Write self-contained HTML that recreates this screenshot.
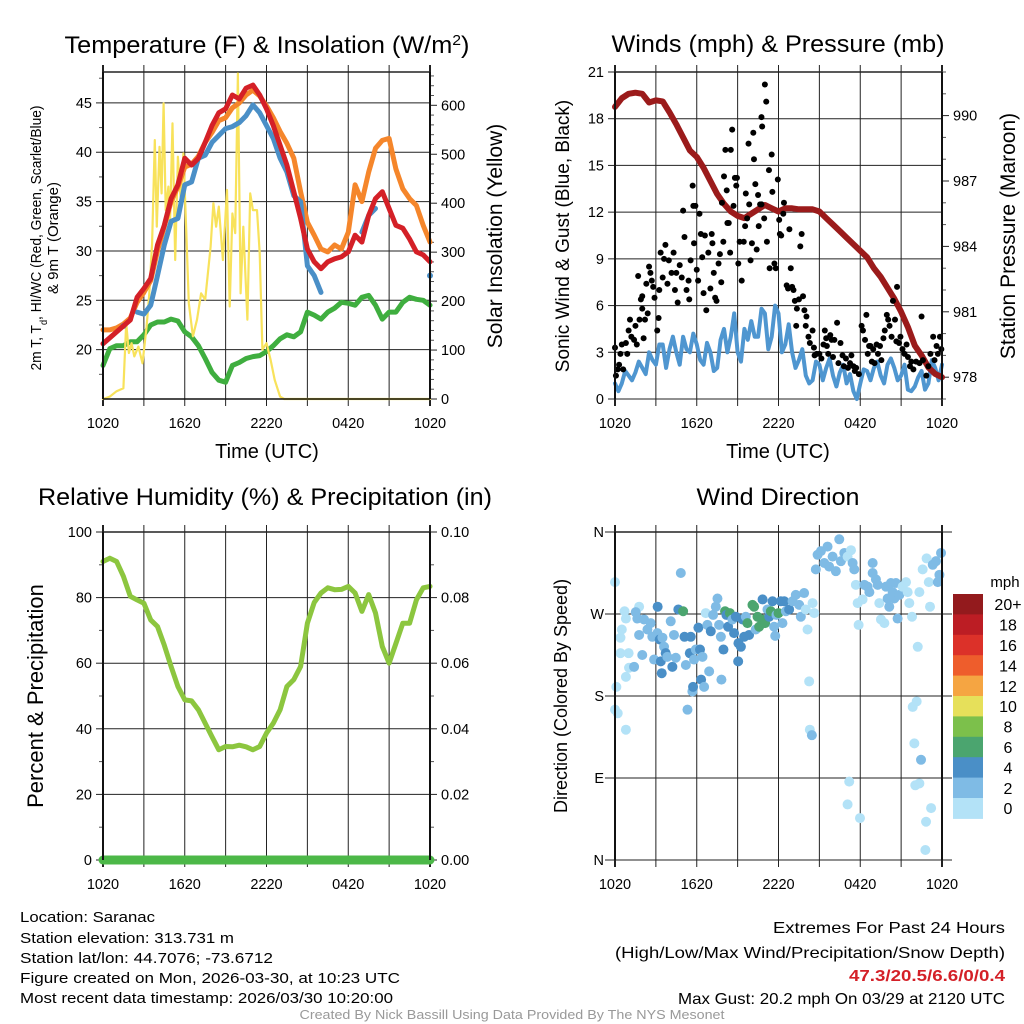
<!DOCTYPE html>
<html><head><meta charset="utf-8"><style>
html,body{margin:0;padding:0;background:#fff;}
svg{display:block;font-family:"Liberation Sans",Arial,sans-serif;}
</style></head><body>
<svg id="fig" width="1024" height="1024" viewBox="0 0 1024 1024" xmlns="http://www.w3.org/2000/svg">
<rect x="0" y="0" width="1024" height="1024" fill="#fff"/>
<g id="layer"></g>
<!-- titles -->
<text x="267" y="53" font-size="24" text-anchor="middle" textLength="405" lengthAdjust="spacingAndGlyphs">Temperature (F) &amp; Insolation (W/m<tspan baseline-shift="super" font-size="15">2</tspan>)</text>
<text x="778" y="52" font-size="24" text-anchor="middle" textLength="333" lengthAdjust="spacingAndGlyphs">Winds (mph) &amp; Pressure (mb)</text>
<text x="265" y="505" font-size="24" text-anchor="middle" textLength="454" lengthAdjust="spacingAndGlyphs">Relative Humidity (%) &amp; Precipitation (in)</text>
<text x="778" y="505" font-size="24" text-anchor="middle" textLength="163" lengthAdjust="spacingAndGlyphs">Wind Direction</text>
<!-- axis titles -->
<text x="267" y="458" font-size="20" text-anchor="middle">Time (UTC)</text>
<text x="778" y="458" font-size="20" text-anchor="middle">Time (UTC)</text>
<g transform="translate(41,238) rotate(-90)">
<text x="0" y="0" font-size="15" text-anchor="middle" textLength="265" lengthAdjust="spacingAndGlyphs">2m T, T<tspan baseline-shift="sub" font-size="10">d</tspan>, HI/WC (Red, Green, Scarlet/Blue)</text>
<text x="0" y="17" font-size="15" text-anchor="middle">&amp; 9m T (Orange)</text>
</g>
<text transform="translate(502,236) rotate(-90)" font-size="21" text-anchor="middle">Solar Insolation (Yellow)</text>
<text transform="translate(569,236) rotate(-90)" font-size="19" text-anchor="middle">Sonic Wind &amp; Gust (Blue, Black)</text>
<text transform="translate(1015,236) rotate(-90)" font-size="21" text-anchor="middle">Station Pressure (Maroon)</text>
<text transform="translate(43,696) rotate(-90)" font-size="22" text-anchor="middle">Percent &amp; Precipitation</text>
<text transform="translate(567,696) rotate(-90)" font-size="18" text-anchor="middle">Direction (Colored By Speed)</text>
<!-- footer -->
<g font-size="15">
<text x="20" y="922" textLength="135" lengthAdjust="spacingAndGlyphs">Location: Saranac</text>
<text x="20" y="943" textLength="214" lengthAdjust="spacingAndGlyphs">Station elevation: 313.731 m</text>
<text x="20" y="963" textLength="253" lengthAdjust="spacingAndGlyphs">Station lat/lon: 44.7076; -73.6712</text>
<text x="20" y="983" textLength="380" lengthAdjust="spacingAndGlyphs">Figure created on Mon, 2026-03-30, at 10:23 UTC</text>
<text x="20" y="1003" textLength="373" lengthAdjust="spacingAndGlyphs">Most recent data timestamp: 2026/03/30 10:20:00</text>
</g>
<g font-size="16" text-anchor="end">
<text x="1005" y="933" textLength="232" lengthAdjust="spacingAndGlyphs">Extremes For Past 24 Hours</text>
<text x="1005" y="958" textLength="390" lengthAdjust="spacingAndGlyphs">(High/Low/Max Wind/Precipitation/Snow Depth)</text>
<text x="1005" y="981" fill="#d42027" font-weight="bold" textLength="156" lengthAdjust="spacingAndGlyphs">47.3/20.5/6.6/0/0.4</text>
<text x="1005" y="1004" textLength="327" lengthAdjust="spacingAndGlyphs">Max Gust: 20.2 mph On 03/29 at 2120 UTC</text>
</g>
<text x="512" y="1019" font-size="12.5" fill="#999" text-anchor="middle" textLength="425" lengthAdjust="spacingAndGlyphs">Created By Nick Bassill Using Data Provided By The NYS Mesonet</text>
</svg>
<script>
// ---------- data ----------
const xTickLabels = ['1020','1620','2220','0420','1020'];
const tempRed = [20.6,21.2,21.8,22.4,23,25.3,26.2,27.2,30.6,32.6,35.3,36.7,39.4,38.7,39.4,41,42.7,44,44.4,45.8,45.4,46.5,46.8,45.8,44.4,42.7,40.7,38.7,36,33.3,30.2,28.9,28.2,28.9,29.2,29.4,29.9,31.6,30.9,33.6,35.3,36,34.3,32.6,32.3,31.2,29.9,29.6,28.9];
const temp9m = [22,22,22.2,22.6,23.2,24.8,25.8,27,30,32.5,35,36.5,38.5,38.8,39.6,41,42,43.2,43.5,44.5,45,45.8,46.3,45.7,44.7,43.5,42.1,40.9,39.4,36,32.9,31.6,30.2,29.9,30.6,30.2,31.9,36.7,35,38,40.4,41.2,41.4,38.3,36.3,35.3,34.6,32.6,30.9];
const tempHIWC = [null,null,null,22.4,null,23.8,23.6,24.5,27.5,30.6,33,33.3,36.7,37,39.4,39.7,41,41.7,42.4,42.6,43,43.7,44.8,44,42.7,41.4,39.4,38,35.6,35,28.5,27.5,25.8,null,null,null,null,null,31.9,33.6,34.3,null,null,null,null,null,null,null,27.5];
const dewPoint = [18.4,20.1,20.4,20.4,20.8,20.8,21.5,22.5,22.8,22.8,23.1,22.9,21.8,21.3,20.4,19.1,17.7,16.9,16.7,18.4,18.7,19.1,19.3,19.4,19.8,20.4,21.1,21.5,21.3,21.8,23.8,23.5,23.1,23.8,24.2,24.8,24.7,24.5,25.3,25.5,24.5,23.1,23.8,23.8,24.8,25.3,25.1,25,24.5];
const solarHours = [0,0.5,1,1.5,1.7,1.9,2.1,2.3,2.6,2.9,3.2,3.4,3.6,3.8,3.95,4.15,4.3,4.45,4.6,4.8,4.9,5.1,5.3,5.5,5.7,5.9,6.1,6.3,6.6,6.9,7.2,7.5,7.9,8.1,8.3,8.5,8.8,9.1,9.3,9.5,9.7,9.9,10.1,10.3,10.6,10.8,11.0,11.3,11.5,11.7,12.0,12.3,12.6,13,13.3,24];
const solarWatts = [0,5,16,22,155,94,114,87,107,73,148,216,318,529,352,515,420,604,386,434,345,563,284,495,407,502,352,196,128,162,216,203,311,400,352,393,284,427,189,379,339,665,216,352,162,420,386,386,298,101,114,80,39,5,0,0];
const windSpeed = [1.0,1.0,1.5,1.7,2.0,3.0,2.2,3.5,3.2,3.0,4.0,3.0,3.5,2.2,3.0,2.0,4.5,4.0,3.0,4.5,5.0,4.0,5.5,4.0,5.5,3.5,3.0,2.5,1.5,1.2,2.2,2.0,1.5,1.7,1.0,0.5,1.0,1.8,2.0,1.5,2.2,2.0,1.5,0.6,0.8,1.8,1.0,2.0,2.2];
const windSpeedMid = [0.5,1.8,1.2,2.4,1.6,2.5,3.5,2.0,4.0,2.2,3.2,4.2,2.5,3.6,1.8,3.8,3.0,5.5,2.4,3.8,4.0,5.8,3.2,6.0,3.0,4.8,2.0,3.2,1.0,2.4,1.2,2.6,0.8,2.2,1.6,0.0,1.9,1.2,2.4,1.0,2.6,1.2,2.2,0.5,1.4,0.6,2.5,1.2];
const pressure = [990.4,990.8,991,991.05,991,990.6,990.7,990.65,990.15,989.6,989,988.4,988.1,987.6,987,986.4,985.95,985.6,985.4,985.3,985.5,985.7,985.9,985.75,985.6,985.75,985.75,985.7,985.7,985.7,985.6,985.3,985,984.7,984.4,984.1,983.8,983.5,983,982.6,982.1,981.6,981,980.3,979.45,979,978.45,978.15,978];
const gustHours = [0,0.07,0.2,0.3,0.4,0.5,0.6,0.8,0.9,1.0,1.1,1.2,1.4,1.5,1.6,1.7,1.8,1.9,2.0,2.0,2.1,2.2,2.3,2.4,2.5,2.6,2.7,2.8,2.9,3.1,3.2,3.25,3.35,3.5,3.6,3.7,3.85,3.95,4.15,4.3,4.4,4.5,4.6,4.75,4.9,5.0,5.1,5.25,5.4,5.45,5.55,5.7,5.75,5.8,5.9,6.0,6.1,6.2,6.3,6.4,6.5,6.6,6.7,6.85,7.0,7.1,7.15,7.25,7.35,7.45,7.6,7.7,7.8,7.85,7.95,8.0,8.1,8.2,8.25,8.35,8.45,8.5,8.6,8.7,8.8,8.9,8.95,9.05,9.15,9.3,9.45,9.55,9.6,9.7,9.8,9.85,9.95,10.05,10.15,10.2,10.3,10.4,10.5,10.55,10.65,10.75,10.75,10.8,10.95,11.0,11.1,11.15,11.3,11.35,11.5,11.55,11.7,11.8,11.95,12.05,12.1,12.2,12.35,12.4,12.8,12.9,12.6,12.7,13.0,13.1,13.2,13.35,13.5,13.6,13.7,13.8,13.3,13.9,14.05,14.0,14.2,14.3,14.5,14.6,14.65,14.8,15.0,15.15,15.3,15.4,15.5,15.55,15.65,15.8,15.9,16.0,16.1,16.3,16.4,16.55,16.7,16.8,16.95,17.1,17.25,17.35,17.5,17.6,17.7,17.9,18.1,18.2,18.35,18.45,18.55,18.65,18.75,18.85,18.95,19.05,19.2,19.3,19.45,19.55,19.7,19.8,19.95,20.05,20.15,20.3,20.4,20.55,20.65,20.7,20.85,20.95,21.1,21.25,21.4,21.5,21.65,21.75,21.9,22.1,22.35,22.5,22.6,22.85,23.0,23.15,23.35,23.45,23.6,23.7,23.85,23.95];
const gustSpeed = [3.3,1.5,1.9,2.2,2.9,3.5,1.9,3.6,2.9,4.4,5.1,4.0,3.8,4.7,3.5,7.9,5.1,6.4,5.8,6.6,3.9,5.1,7.4,5.5,8.5,8.1,7.6,7.2,6.5,4.4,5.2,7.0,9.4,7.8,9.0,9.9,7.4,8.9,8.1,9.4,7.0,8.1,6.2,8.6,7.8,12.1,10.4,7.0,7.6,6.4,8.9,13.7,12.4,10.0,12.4,8.3,7.6,11.9,10.6,9.1,6.8,10.5,5.7,9.4,7.1,10.6,10.0,8.1,6.5,6.3,8.7,9.3,7.5,12.6,10.1,14.3,16.0,13.4,11.3,11.3,9.4,16.0,17.3,12.4,14.2,13.7,14.2,8.7,10.1,7.6,10.1,11.1,13.2,11.6,16.4,12.5,8.9,10.0,17.1,15.4,13.8,9.6,13.1,11.1,12.5,12.5,18.1,17.5,11.6,20.2,19.1,10.1,14.7,8.4,15.7,13.3,8.7,8.4,14.1,11.5,10.6,10.5,11.9,12.6,10.9,8.4,7.3,7.1,7.2,7.0,6.3,5.8,6.4,9.8,10.6,6.6,4.7,5.7,5.3,4.7,4.0,3.6,4.4,3.3,2.8,2.9,2.9,2.6,3.5,4.4,3.9,3.4,2.9,4.1,3.8,2.7,3.8,4.9,2.3,3.6,2.8,2.1,2.6,2.0,2.3,2.8,2.1,1.8,2.0,1.6,4.7,4.4,3.8,5.4,2.9,3.4,3.4,2.4,3.2,2.3,3.5,2.9,3.4,2.5,3.9,4.4,5.4,5.1,4.7,4.0,6.3,5.1,3.7,7.2,3.6,4.0,3.2,2.9,3.5,2.7,2.1,2.4,1.9,2.4,2.3,5.3,2.5,1.5,2.1,2.9,4.0,2.5,3.4,2.9,4.0,3.2];
const humidity = [91,92,91,86.5,80.4,79.3,78.3,73.2,71.2,65.5,59,52.9,48.8,48.5,45.8,41.7,37.6,33.6,34.6,34.5,35,34.5,33.6,34.6,38.7,41.7,45.8,52.9,55,59,72.2,78.5,81.4,83,82.4,82.5,83.4,81.4,75.8,80.9,75.3,65.1,60,66,72.2,72.2,79.3,83,83.4];
const precipitation = [0,0,0,0,0,0,0,0,0,0,0,0,0,0,0,0,0,0,0,0,0,0,0,0,0,0,0,0,0,0,0,0,0,0,0,0,0,0,0,0,0,0,0,0,0,0,0,0,0];
const dirHours = [0,0,0.2,0.1,0.8,0.4,0.8,0.7,0.5,0.4,1.0,1.03,0.8,1.4,1.77,1.52,1.64,1.77,2.0,2.13,2.38,2.62,2.74,2.87,3.13,3.11,3.28,3.48,3.6,3.72,3.36,3.43,3.84,4.09,4.21,4.33,4.46,4.65,4.83,5.0,5.1,5.2,5.32,5.49,5.56,5.68,5.73,5.8,5.93,6.12,6.24,6.32,6.42,6.54,6.66,6.78,6.91,7.03,7.2,7.4,7.52,7.64,7.77,7.81,7.96,8.08,8.18,8.3,8.43,8.62,8.74,8.87,9.04,9.06,9.24,9.36,9.48,9.6,9.72,9.84,10.09,10.21,10.33,10.46,10.58,10.78,10.83,11.02,11.19,11.32,11.44,11.56,11.68,11.76,11.85,12.0,12.17,12.29,12.42,12.54,12.78,13.03,13.27,13.52,13.64,13.88,14.0,14.13,14.25,14.3,14.45,14.5,14.62,14.74,14.87,15.11,15.36,15.6,15.72,15.97,16.21,16.46,16.58,16.83,17.07,17.32,17.44,17.56,17.19,17.07,17.68,17.81,17.88,17.98,18.17,18.3,18.54,18.67,18.91,18.91,19.15,19.28,19.4,19.52,19.77,19.89,20.01,20.13,20.25,20.38,20.5,20.62,20.74,20.87,21.11,21.36,21.48,21.6,21.8,21.85,21.97,22.04,22.14,22.22,22.34,22.46,22.34,22.58,22.83,22.78,22.87,23.03,23.12,23.2,23.32,23.56,23.81,23.93,23.69];
const dirDegrees = [305,165,161,190,143,244,265,273,253,227,227,211,201,212,278,272,265,247,225,264,253,260,245,220,278,249,242,244,234,227,218,205,223,262,212,247,222,275,315,273,245,214,165,227,245,185,190,220,231,255,231,198,223,190,271,258,207,251,269,278,287,258,245,198,231,273,269,256,271,264,249,267,218,238,234,264,245,267,260,247,280,278,253,267,256,264,286,260,275,267,273,284,256,246,269,271,284,260,284,273,275,284,291,280,267,293,275,253,196,143,137,282,271,319,335,339,326,344,322,333,317,352,328,337,333,340,326,319,86,61,302,282,258,46,286,302,300,294,326,315,308,302,282,264,260,300,287,278,304,294,287,304,265,291,300,305,294,282,267,168,128,82,174,234,84,110,294,319,42,11,331,305,278,57,324,328,313,337,305];
const dirSpeed = [1,1,1,1,1,1,1,1,1,1,1,1,1,3,1,3,3,3,3,3,3,3,3,3,5,3,5,3,3,5,5,5,3,3,5,3,3,5,3,7,5,3,3,5,5,3,5,3,3,5,5,5,3,3,1,3,3,5,3,3,3,3,3,3,5,7,5,5,7,3,5,5,5,5,5,5,5,3,7,5,7,7,3,7,7,7,5,7,3,5,7,5,3,3,3,7,5,3,5,3,5,3,3,3,3,3,1,1,1,1,3,1,1,3,3,3,3,3,3,3,3,3,3,3,1,1,3,3,1,1,1,1,1,1,1,3,3,3,3,3,3,3,1,1,1,3,3,3,3,3,3,3,3,3,1,1,1,1,1,1,1,1,1,1,1,3,1,1,1,1,1,1,1,1,3,3,3,3,3];
const speedBins = ['0','2','4','6','8','10','12','14','16','18','20+'];
const speedColors = ['#b3e2f7','#7fbbe5','#4a8fc7','#4ba56f','#7cc04b','#e6e05a','#f5a542','#ee5d2c','#dc3129','#bc1d24','#931a1d'];

// ---------- helpers ----------
const NS='http://www.w3.org/2000/svg';
const layer=document.getElementById('layer');
function mk(tag,attrs,parent){const e=document.createElementNS(NS,tag);for(const k in attrs)e.setAttribute(k,attrs[k]);(parent||layer).appendChild(e);return e;}
function halfHours(n){const a=[];for(let i=0;i<n;i++)a.push(i*0.5);return a;}
const HH = halfHours(49);

const L0=103,L1=430,R0=615,R1=942,T0=72,T1=399,B0=532,B1=860;
function xs(x0,x1){return h=>x0+h*(x1-x0)/24;}
function lin(d0,d1,p0,p1){return v=>p0+(v-d0)*(p1-p0)/(d1-d0);}

function frame(key,x0,x1,y0,y1){
  const g=mk('g',{});
  
  
  const X=xs(x0,x1);
  for(let i=0;i<=8;i++){
    const x=X(i*3);
    const v=mk('line',{x1:x,x2:x,y1:y0-7,y2:y1+7,stroke:'#222','stroke-width':(i==0||i==8)?2:1},g);
    
    
  }
  xTickLabels.forEach((lab,i)=>{
    const t=mk('text',{x:X(i*6),y:y1+29,'font-size':14.5,'text-anchor':'middle'},g);
    t.textContent=lab;
    
    
  });
  const top=mk('line',{x1:x0,x2:x1,y1:y0,y2:y0,stroke:'#222','stroke-width':1.5},g);
  
  
  return g;
}
function yAxis(g,key,side,x,y,vals,labels,minor,gridTo){
  vals.forEach((v,i)=>{
    const yy=y(v);
    if(gridTo){
      const gl=mk('line',{x1:gridTo[0],x2:gridTo[1],y1:yy,y2:yy,stroke:'#222','stroke-width':1},g);
      
      
    }
    const tk=mk('line',{x1:x,x2:x+(side=='left'?-7:7),y1:yy,y2:yy,stroke:'#222','stroke-width':1},g);
    
    
    if(labels[i]!==null){
      const t=mk('text',{x:side=='left'?x-11:x+11,y:yy+5,'font-size':14.5,'text-anchor':side=='left'?'end':'start'},g);
      t.textContent=labels[i];
      
      
    }
  });
  (minor||[]).forEach(v=>{
    const yy=y(v);
    const tk=mk('line',{x1:x,x2:x+(side=='left'?-4:4),y1:yy,y2:yy,stroke:'#555','stroke-width':1},g);
    
    
  });
}
function pathFrom(xsArr,ysArr,X,Y){
  let d='',pen=false;const iso=[];
  for(let i=0;i<ysArr.length;i++){
    if(ysArr[i]===null||ysArr[i]===undefined){pen=false;continue;}
    const px=X(xsArr[i]).toFixed(1),py=Y(ysArr[i]).toFixed(1);
    const prevNull=(i==0||ysArr[i-1]===null), nextNull=(i==ysArr.length-1||ysArr[i+1]===null);
    if(prevNull&&nextNull)iso.push([px,py]);
    d+=(pen?'L':'M')+px+' '+py;pen=true;
  }
  return {d,iso};
}
function series(g,name,xsArr,ysArr,X,Y,color,w){
  const r=pathFrom(xsArr,ysArr,X,Y);
  const p=mk('path',{d:r.d,fill:'none',stroke:color,'stroke-width':w,'stroke-linejoin':'round','stroke-linecap':'round'},g);
  
  
  r.iso.forEach(q=>{
    const c=mk('circle',{cx:q[0],cy:q[1],r:w/2+0.5,fill:color},g);
    
    
  });
}
function range(a,b,s){const r=[];for(let v=a;v<=b+1e-9;v+=s)r.push(+v.toFixed(4));return r;}

// ---------- Panel 1: temperature ----------
(function(){
  const X=xs(L0,L1), Y=lin(15,48.13,T1,T0), S=lin(0,600,T1,105.3);
  const g=frame('temperature',L0,L1,T0,T1);
  const tv=[20,25,30,35,40,45];
  yAxis(g,'temperature','left',L0,Y,tv,tv.map(String),[17.5,22.5,27.5,32.5,37.5,42.5,47.5],[L0,L1]);
  const sv=[0,100,200,300,400,500,600];
  const sm=range(20,660,20).filter(v=>v%100!==0);
  yAxis(g,'solar','right',L1,S,sv,sv.map(String),sm,null);
  const cg=mk('g',{});
  
  
  series(cg,'dewpoint-line',HH,dewPoint,X,Y,'#3fae3f',5);
  series(cg,'solar-insolation-line',solarHours,solarWatts,X,S,'#f8e25b',2.2);
  series(cg,'temperature-9m-line',HH,temp9m,X,Y,'#f5862b',5);
  series(cg,'heat-index-windchill-line',HH,tempHIWC,X,Y,'#4a8fc7',5);
  series(cg,'temperature-2m-line',HH,tempRed,X,Y,'#d42027',5);
  const f1=mk('line',{x1:L0,x2:L0,y1:T0,y2:T1,stroke:'#111','stroke-width':2});
  
  
  const f2=mk('line',{x1:L1,x2:L1,y1:T0,y2:T1,stroke:'#111','stroke-width':2});
  
  
  const f3=mk('line',{x1:L0,x2:L1,y1:T1,y2:T1,stroke:'#111','stroke-width':1.5});
  
  
})();

// ---------- Panel 2: winds ----------
(function(){
  const X=xs(R0,R1), W=lin(0,21,T1,T0), P=lin(977,992,T1,T0);
  const g=frame('winds',R0,R1,T0,T1);
  const wv=[0,3,6,9,12,15,18,21];
  yAxis(g,'winds','left',R0,W,wv,wv.map(String),[],[R0,R1]);
  const pv=[978,981,984,987,990];
  yAxis(g,'pressure','right',R1,P,pv,pv.map(String),[977,979,980,982,983,985,986,988,989,991,992],null);
  const wt=[],ws=[];
  for(let i=0;i<windSpeed.length;i++){wt.push(HH[i]);ws.push(windSpeed[i]);if(i<windSpeedMid.length){wt.push(HH[i]+0.25);ws.push(windSpeedMid[i]);}}
  series(g,'sonic-wind-line',wt,ws,X,W,'#4f96d0',4);
  series(g,'pressure-line',HH,pressure,X,P,'#9b1b1b',6);
  for(let i=0;i<gustHours.length;i++){
    const c=mk('circle',{cx:X(gustHours[i]),cy:W(gustSpeed[i]),r:3,fill:'#000'},g);
    
    
  }
  const f1=mk('line',{x1:R0,x2:R0,y1:T0,y2:T1,stroke:'#111','stroke-width':2});
  
  
  const f2=mk('line',{x1:R1,x2:R1,y1:T0,y2:T1,stroke:'#111','stroke-width':2});
  
  
})();

// ---------- Panel 3: humidity ----------
(function(){
  const X=xs(L0,L1), H=lin(0,100,B1,B0), Pr=lin(0,0.1,B1,B0);
  const g=frame('humidity',L0,L1,B0,B1);
  const hv=[0,20,40,60,80,100];
  yAxis(g,'humidity','left',L0,H,hv,hv.map(String),[10,30,50,70,90],[L0,L1]);
  const pv=[0,0.02,0.04,0.06,0.08,0.10];
  yAxis(g,'precip','right',L1,Pr,pv,pv.map(v=>v.toFixed(2)),[0.01,0.03,0.05,0.07,0.09],null);
  series(g,'precipitation-line',HH,precipitation,X,Pr,'#4cb848',9);
  series(g,'relative-humidity-line',HH,humidity,X,H,'#8cc63f',5);
  const f1=mk('line',{x1:L0,x2:L0,y1:B0,y2:B1,stroke:'#111','stroke-width':2});
  
  
  const f2=mk('line',{x1:L1,x2:L1,y1:B0,y2:B1,stroke:'#111','stroke-width':2});
  
  
})();

// ---------- Panel 4: direction ----------
(function(){
  const X=xs(R0,R1), D=lin(0,360,B1,B0);
  const g=frame('direction',R0,R1,B0,B1);
  const dv=[0,90,180,270,360];
  yAxis(g,'direction','left',R0,D,dv,['N','E','S','W','N'],[],[R0-10,R1+10]);
  for(let i=0;i<dirHours.length;i++){
    const c=mk('circle',{cx:X(dirHours[i]),cy:D(dirDegrees[i]),r:5,fill:speedColors[Math.min(10,Math.floor(dirSpeed[i]/2))]},g);
    
    
  }
  const f1=mk('line',{x1:R0,x2:R0,y1:B0,y2:B1,stroke:'#111','stroke-width':2});
  
  
  const f2=mk('line',{x1:R1,x2:R1,y1:B0,y2:B1,stroke:'#111','stroke-width':2});
  
  
  // colorbar
  const cb=mk('g',{});
  
  
  const ut=mk('text',{x:1005,y:587,'font-size':15,'text-anchor':'middle'},cb);
  ut.textContent='mph';
  
  
  const bh=20.4, top=594;
  speedBins.forEach((lab,i)=>{
    const k=10-i;
    const r=mk('rect',{x:953,y:top+i*bh,width:30,height:bh+0.5,fill:speedColors[k]},cb);
    
    
    const t=mk('text',{x:1008,y:top+i*bh+bh/2+6,'font-size':16,'text-anchor':'middle'},cb);
    t.textContent=speedBins[k];
    
    
  });
})();
</script>
</body></html>
